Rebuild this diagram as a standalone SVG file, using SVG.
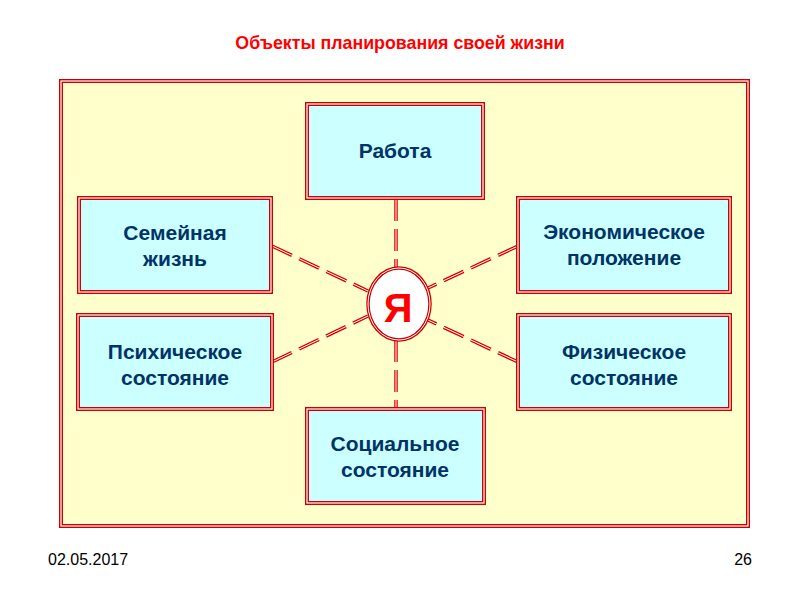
<svg xmlns="http://www.w3.org/2000/svg" width="800" height="600" viewBox="0 0 800 600">
<style>
.o{stroke:#cc0000;stroke-width:4}
.i{fill:none;stroke:#ffffff;stroke-width:1.2}
.nf{fill:#ccffff}
.t{font-family:"Liberation Sans",Arial,sans-serif;font-weight:bold;font-size:21px;fill:#003366;text-anchor:middle}
.lo{stroke:#dd0000;stroke-width:3.5;stroke-dasharray:22 8;fill:none}
.li{stroke:#ffffff;stroke-width:1;stroke-dasharray:22 8;fill:none}
.f{font-family:"Liberation Sans",Arial,sans-serif;font-size:16px;fill:#000000}
</style>
<rect width="800" height="600" fill="#ffffff"/>
<text x="400" y="49" font-family="'Liberation Sans',Arial,sans-serif" font-weight="bold" font-size="17.8" fill="#ff0000" text-anchor="middle">Объекты планирования своей жизни</text>
<g id="frame">
<rect x="61" y="81" width="687" height="445" fill="#ffffcc" class="o"/>
<rect x="61" y="81" width="687" height="445" class="i"/>
</g>
<g id="connectors">
<line x1="396" y1="199" x2="396" y2="268" class="lo"/><line x1="396" y1="199" x2="396" y2="268" class="li"/>
<line x1="396" y1="340" x2="396" y2="408" class="lo"/><line x1="396" y1="340" x2="396" y2="408" class="li"/>
<line x1="272" y1="246" x2="368" y2="291" class="lo"/><line x1="272" y1="246" x2="368" y2="291" class="li"/>
<line x1="518" y1="246" x2="428" y2="288" class="lo"/><line x1="518" y1="246" x2="428" y2="288" class="li"/>
<line x1="272" y1="362" x2="368" y2="316" class="lo"/><line x1="272" y1="362" x2="368" y2="316" class="li"/>
<line x1="518" y1="362" x2="428" y2="320" class="lo"/><line x1="518" y1="362" x2="428" y2="320" class="li"/>
</g>
<g id="rabota">
<rect x="307" y="104" width="176" height="94" class="nf o"/><rect x="307" y="104" width="176" height="94" class="i"/>
<text x="395" y="158" class="t">Работа</text>
</g>
<g id="semya">
<rect x="79" y="198" width="192" height="94" class="nf o"/><rect x="79" y="198" width="192" height="94" class="i"/>
<text x="175" y="240" class="t">Семейная</text>
<text x="175" y="266" class="t">жизнь</text>
</g>
<g id="econ">
<rect x="518" y="198" width="212" height="94" class="nf o"/><rect x="518" y="198" width="212" height="94" class="i"/>
<text x="624" y="239" class="t">Экономическое</text>
<text x="624" y="265" class="t">положение</text>
</g>
<g id="psych">
<rect x="78" y="315" width="194" height="94" class="nf o"/><rect x="78" y="315" width="194" height="94" class="i"/>
<text x="175" y="359" class="t">Психическое</text>
<text x="175" y="385" class="t">состояние</text>
</g>
<g id="phys">
<rect x="518" y="315" width="212" height="94" class="nf o"/><rect x="518" y="315" width="212" height="94" class="i"/>
<text x="624" y="359" class="t">Физическое</text>
<text x="624" y="385" class="t">состояние</text>
</g>
<g id="social">
<rect x="307" y="409" width="177" height="94" class="nf o"/><rect x="307" y="409" width="177" height="94" class="i"/>
<text x="395" y="451" class="t">Социальное</text>
<text x="395" y="477" class="t">состояние</text>
</g>
<g id="ya">
<ellipse cx="399" cy="304" rx="31" ry="36" fill="#ffffff" stroke="#cc0000" stroke-width="3.5"/>
<ellipse cx="399" cy="304" rx="31" ry="36" fill="none" stroke="#ffffff" stroke-width="1"/>
<text x="398" y="322" font-family="'Liberation Sans',Arial,sans-serif" font-weight="bold" font-size="40" fill="#ff0000" text-anchor="middle">Я</text>
</g>
<text x="48" y="565" class="f">02.05.2017</text>
<text x="752" y="565" class="f" text-anchor="end">26</text>
</svg>
